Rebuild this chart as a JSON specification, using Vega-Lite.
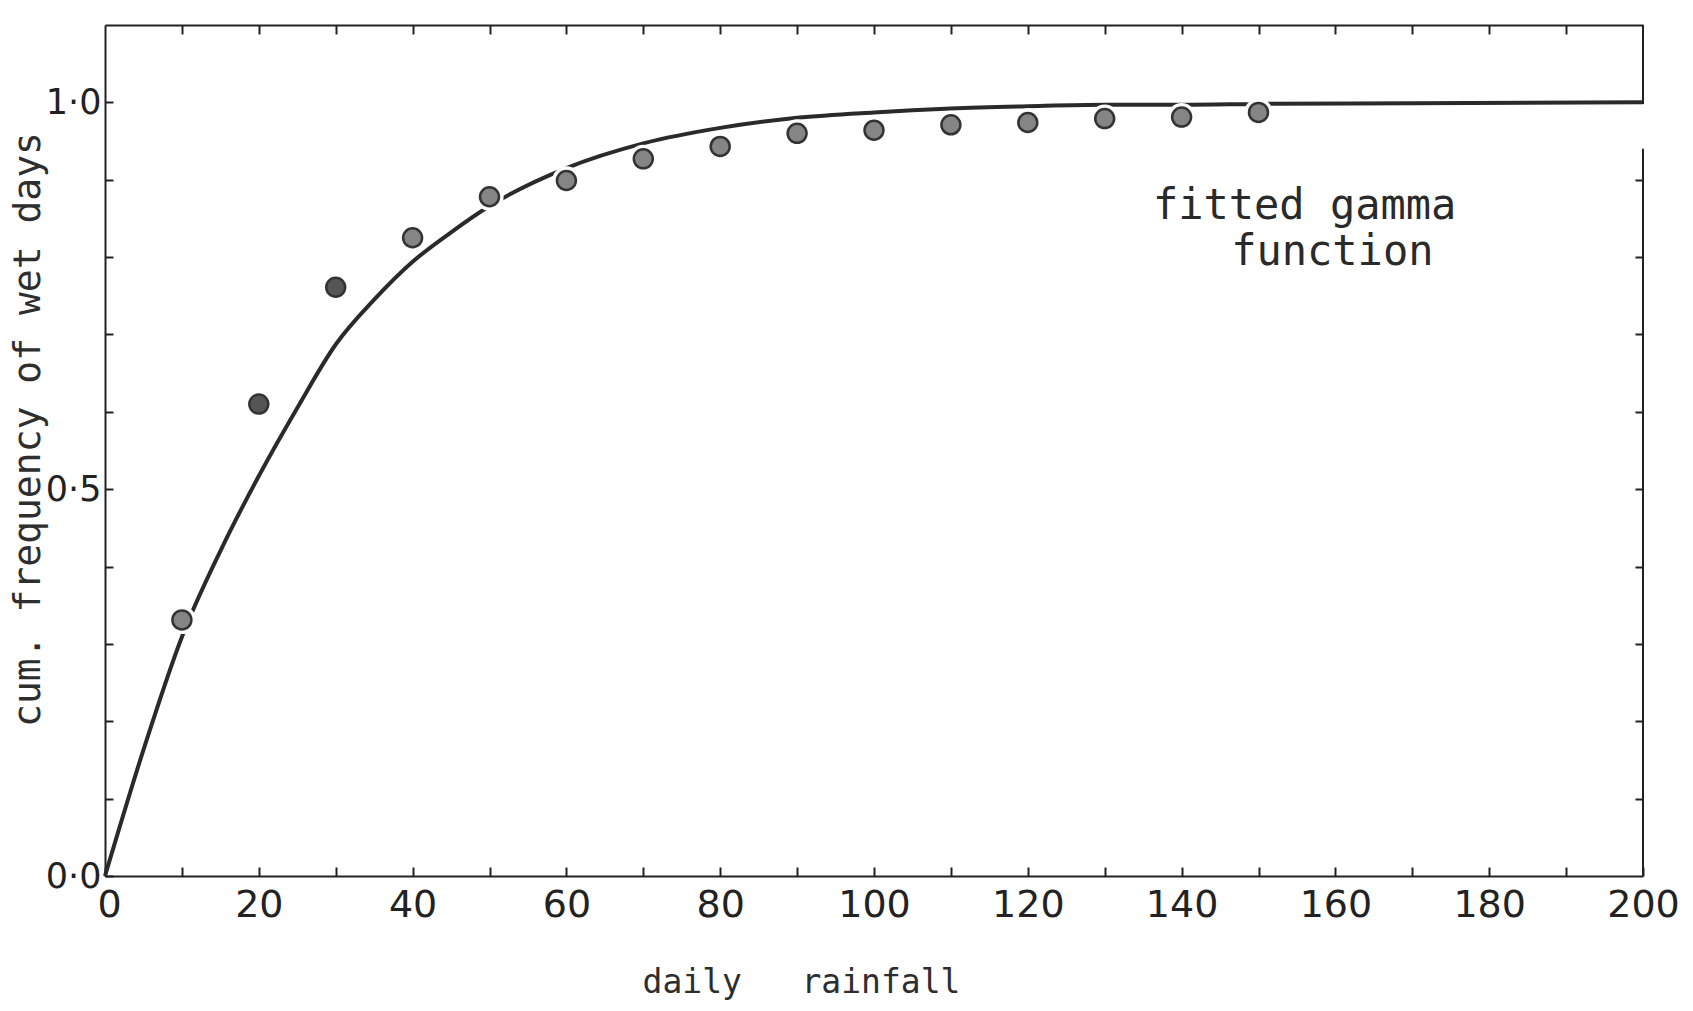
{
  "$schema": "https://vega.github.io/schema/vega-lite/v6.json",
  "width": 1538,
  "height": 851,
  "autosize": {"type": "none"},
  "padding": {"left": 105, "top": 25, "right": 50, "bottom": 135},
  "background": "white",
  "config": {
    "view": {"stroke": null},
    "axis": {
      "grid": false,
      "labelFont": "DejaVu Sans",
      "labelFontSize": 38,
      "labelFontWeight": "normal",
      "labelColor": "#222",
      "domainColor": "#222",
      "domainWidth": 2,
      "tickColor": "#222",
      "tickWidth": 2,
      "titleFont": "DejaVu Sans Mono",
      "titleFontWeight": "normal",
      "titleColor": "#2e2e2e"
    }
  },
  "datasets": {
    "fit": [
      {"x": 0, "p": 0}, {"x": 5, "p": 0.163}, {"x": 10, "p": 0.309}, {"x": 15, "p": 0.42},
      {"x": 20, "p": 0.517}, {"x": 25, "p": 0.605}, {"x": 30, "p": 0.687}, {"x": 35, "p": 0.745},
      {"x": 40, "p": 0.794}, {"x": 45, "p": 0.832}, {"x": 50, "p": 0.866}, {"x": 60, "p": 0.915},
      {"x": 70, "p": 0.947}, {"x": 80, "p": 0.967}, {"x": 90, "p": 0.98}, {"x": 100, "p": 0.987},
      {"x": 110, "p": 0.992}, {"x": 120, "p": 0.995}, {"x": 130, "p": 0.997}, {"x": 140, "p": 0.997},
      {"x": 150, "p": 0.998}, {"x": 170, "p": 0.999}, {"x": 200, "p": 1.0}
    ],
    "obs": [
      {"x": 10, "p": 0.331}, {"x": 20, "p": 0.61}, {"x": 30, "p": 0.761}, {"x": 40, "p": 0.825},
      {"x": 50, "p": 0.878}, {"x": 60, "p": 0.899}, {"x": 70, "p": 0.927}, {"x": 80, "p": 0.943},
      {"x": 90, "p": 0.96}, {"x": 100, "p": 0.964}, {"x": 110, "p": 0.971}, {"x": 120, "p": 0.974},
      {"x": 130, "p": 0.979}, {"x": 140, "p": 0.981}, {"x": 150, "p": 0.987}
    ],
    "border": [
      {"x": 200, "y": 0, "y2": 0.94},
      {"x": 200, "y": 0.998, "y2": 1.1}
    ],
    "note": [
      {"x": 156, "p": 0.866, "text": "fitted gamma"},
      {"x": 159.6, "p": 0.807, "text": "function"}
    ]
  },
  "resolve": {"axis": {"x": "independent", "y": "independent"}},
  "layer": [
    {
      "data": {"name": "fit"},
      "mark": {"type": "line", "interpolate": "monotone", "color": "#2a2a2a", "strokeWidth": 4},
      "encoding": {
        "x": {
          "field": "x", "type": "quantitative",
          "scale": {"domain": [0, 200], "nice": false, "zero": false},
          "axis": {
            "orient": "bottom",
            "values": [0,10,20,30,40,50,60,70,80,90,100,110,120,130,140,150,160,170,180,190,200],
            "labelExpr": "datum.value % 20 == 0 ? datum.label : ''",
            "labelOffset": {"condition": {"test": "datum.value == 0", "value": 4}, "value": 0},
            "tickSize": -9,
            "labelPadding": 19,
            "labelFlush": false,
            "labelOverlap": false,
            "title": "daily\u00a0\u00a0\u00a0rainfall",
            "titleFontSize": 33,
            "titleX": 696,
            "titleY": 106,
            "titleAnchor": null,
            "titleAlign": "center",
            "titleBaseline": "middle"
          }
        },
        "y": {
          "field": "p", "type": "quantitative",
          "scale": {"domain": [0, 1.1], "nice": false, "zero": false},
          "axis": {
            "orient": "left",
            "values": [0,0.1,0.2,0.3,0.4,0.5,0.6,0.7,0.8,0.9,1.0],
            "labelExpr": "(abs(datum.value) < 0.001 || abs(datum.value - 0.5) < 0.001 || abs(datum.value - 1) < 0.001) ? replace(format(datum.value, '.1f'), '.', '·') : ''",
            "labelFontSize": 35,
            "tickSize": -8,
            "labelPadding": 12,
            "labelFlush": false,
            "labelOverlap": false,
            "title": "cum.\u00a0frequency\u00a0of\u00a0wet\u00a0days",
            "titleFontSize": 38,
            "titleX": -77,
            "titleY": 404,
            "titleAngle": -90,
            "titleAlign": "center",
            "titleBaseline": "middle"
          }
        }
      }
    },
    {
      "data": {"name": "obs"},
      "mark": {"type": "point", "shape": "circle", "filled": true, "color": "white", "size": 800, "opacity": 1},
      "encoding": {
        "x": {"field": "x", "type": "quantitative", "axis": null},
        "y": {"field": "p", "type": "quantitative", "axis": null}
      }
    },
    {
      "data": {"name": "obs"},
      "mark": {"type": "point", "shape": "circle", "filled": false, "size": 360, "stroke": "#333", "strokeWidth": 2.5, "opacity": 1},
      "encoding": {
        "x": {"field": "x", "type": "quantitative", "axis": null},
        "y": {"field": "p", "type": "quantitative", "axis": null},
        "fill": {
          "condition": {"test": "datum.x == 20 || datum.x == 30", "value": "#555"},
          "value": "#858585"
        }
      }
    },
    {
      "data": {"name": "note"},
      "mark": {"type": "text", "font": "DejaVu Sans Mono", "fontSize": 42, "color": "#2a2a2a", "align": "center", "baseline": "middle"},
      "encoding": {
        "x": {"field": "x", "type": "quantitative", "axis": null},
        "y": {"field": "p", "type": "quantitative", "axis": null},
        "text": {"field": "text"}
      }
    },
    {
      "data": {"name": "border"},
      "mark": {"type": "rule", "color": "#222", "strokeWidth": 2},
      "encoding": {
        "x": {
          "field": "x", "type": "quantitative",
          "axis": {
            "orient": "top",
            "values": [10,20,30,40,50,60,70,80,90,100,110,120,130,140,150,160,170,180,190],
            "labels": false,
            "tickSize": -9,
            "title": null
          }
        },
        "y": {
          "field": "y", "type": "quantitative",
          "axis": {
            "orient": "right",
            "domain": false,
            "values": [0.1,0.2,0.3,0.4,0.5,0.6,0.7,0.8,0.9],
            "labels": false,
            "tickSize": -8,
            "title": null
          }
        },
        "y2": {"field": "y2"}
      }
    }
  ]
}
